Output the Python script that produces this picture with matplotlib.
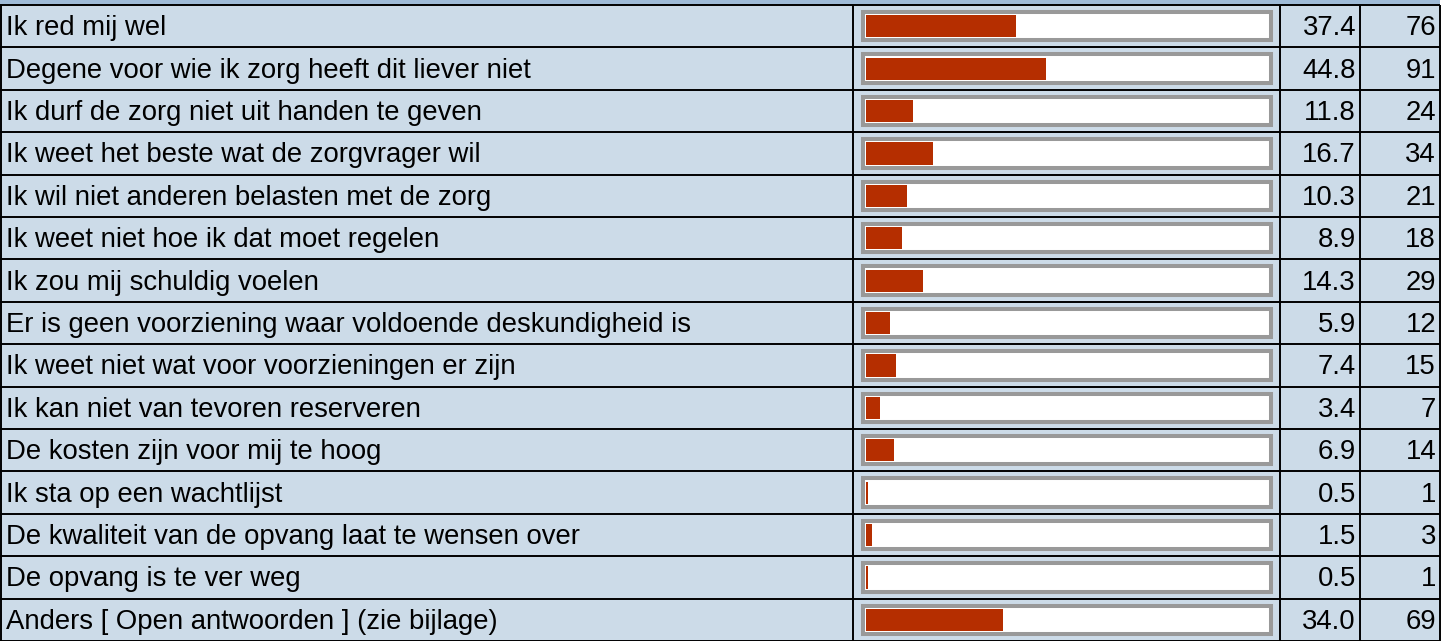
import matplotlib
matplotlib.use("Agg")
import matplotlib.pyplot as plt
from matplotlib.patches import Rectangle

labels = [
    "Ik red mij wel",
    "Degene voor wie ik zorg heeft dit liever niet",
    "Ik durf de zorg niet uit handen te geven",
    "Ik weet het beste wat de zorgvrager wil",
    "Ik wil niet anderen belasten met de zorg",
    "Ik weet niet hoe ik dat moet regelen",
    "Ik zou mij schuldig voelen",
    "Er is geen voorziening waar voldoende deskundigheid is",
    "Ik weet niet wat voor voorzieningen er zijn",
    "Ik kan niet van tevoren reserveren",
    "De kosten zijn voor mij te hoog",
    "Ik sta op een wachtlijst",
    "De kwaliteit van de opvang laat te wensen over",
    "De opvang is te ver weg",
    "Anders [ Open antwoorden ] (zie bijlage)",
]
percent = [37.4, 44.8, 11.8, 16.7, 10.3, 8.9, 14.3, 5.9, 7.4, 3.4, 6.9, 0.5, 1.5, 0.5, 34.0]
counts = [76, 91, 24, 34, 21, 18, 29, 12, 15, 7, 14, 1, 3, 1, 69]

W, H = 1454, 641
top = 5
row_h = (H - top) / len(labels)
right = 1440
col_x = [1, 852.5, 1279.5, 1360, 1439.5]

bg = "#ccdbe8"
head = "#9fbbd7"
bar_col = "#b52e00"
font = "Liberation Sans"
fs = 19.8

fig = plt.figure(figsize=(W / 100, H / 100), dpi=100)
ax = fig.add_axes([0, 0, 1, 1])
ax.set_xlim(0, W)
ax.set_ylim(H, 0)
ax.axis("off")

ax.add_patch(Rectangle((0, 0), right, top, color=head, lw=0))
ax.add_patch(Rectangle((0, top), right, H - top, color=bg, lw=0))

for k in range(len(labels) + 1):
    y = top + k * row_h
    ax.plot([0, right], [y, y], color="black", lw=1.4, solid_capstyle="butt")
for x in col_x:
    ax.plot([x, x], [top, H], color="black", lw=1.4, solid_capstyle="butt")

for i, (lab, p, c) in enumerate(zip(labels, percent, counts)):
    yb = top + (i + 0.5) * row_h + 9
    ax.text(6, yb, lab, fontsize=fs, family=font, va="baseline", ha="left")
    ax.text(1356, yb, f"{p:.1f}", fontsize=fs, family=font, va="baseline", ha="right")
    ax.text(1436, yb, str(c), fontsize=fs, family=font, va="baseline", ha="right")

# bar axes over the bar column, 0-100 %
bx = fig.add_axes([866 / W, 0, 402 / W, (H - top) / H])
bx.set_xlim(0, 100)
bx.set_ylim(len(labels), 0)
bx.axis("off")
for i in range(len(labels)):
    bx.add_patch(Rectangle((-0.75, i + 0.165), 101.5, 0.668, facecolor="white",
                           edgecolor="#999999", lw=2.9, clip_on=False, zorder=1))
ypos = [i + 0.502 for i in range(len(labels))]
bx.barh(ypos, percent, height=0.52, color=bar_col, zorder=2, clip_on=False)

fig.savefig("out.png", dpi=100)
